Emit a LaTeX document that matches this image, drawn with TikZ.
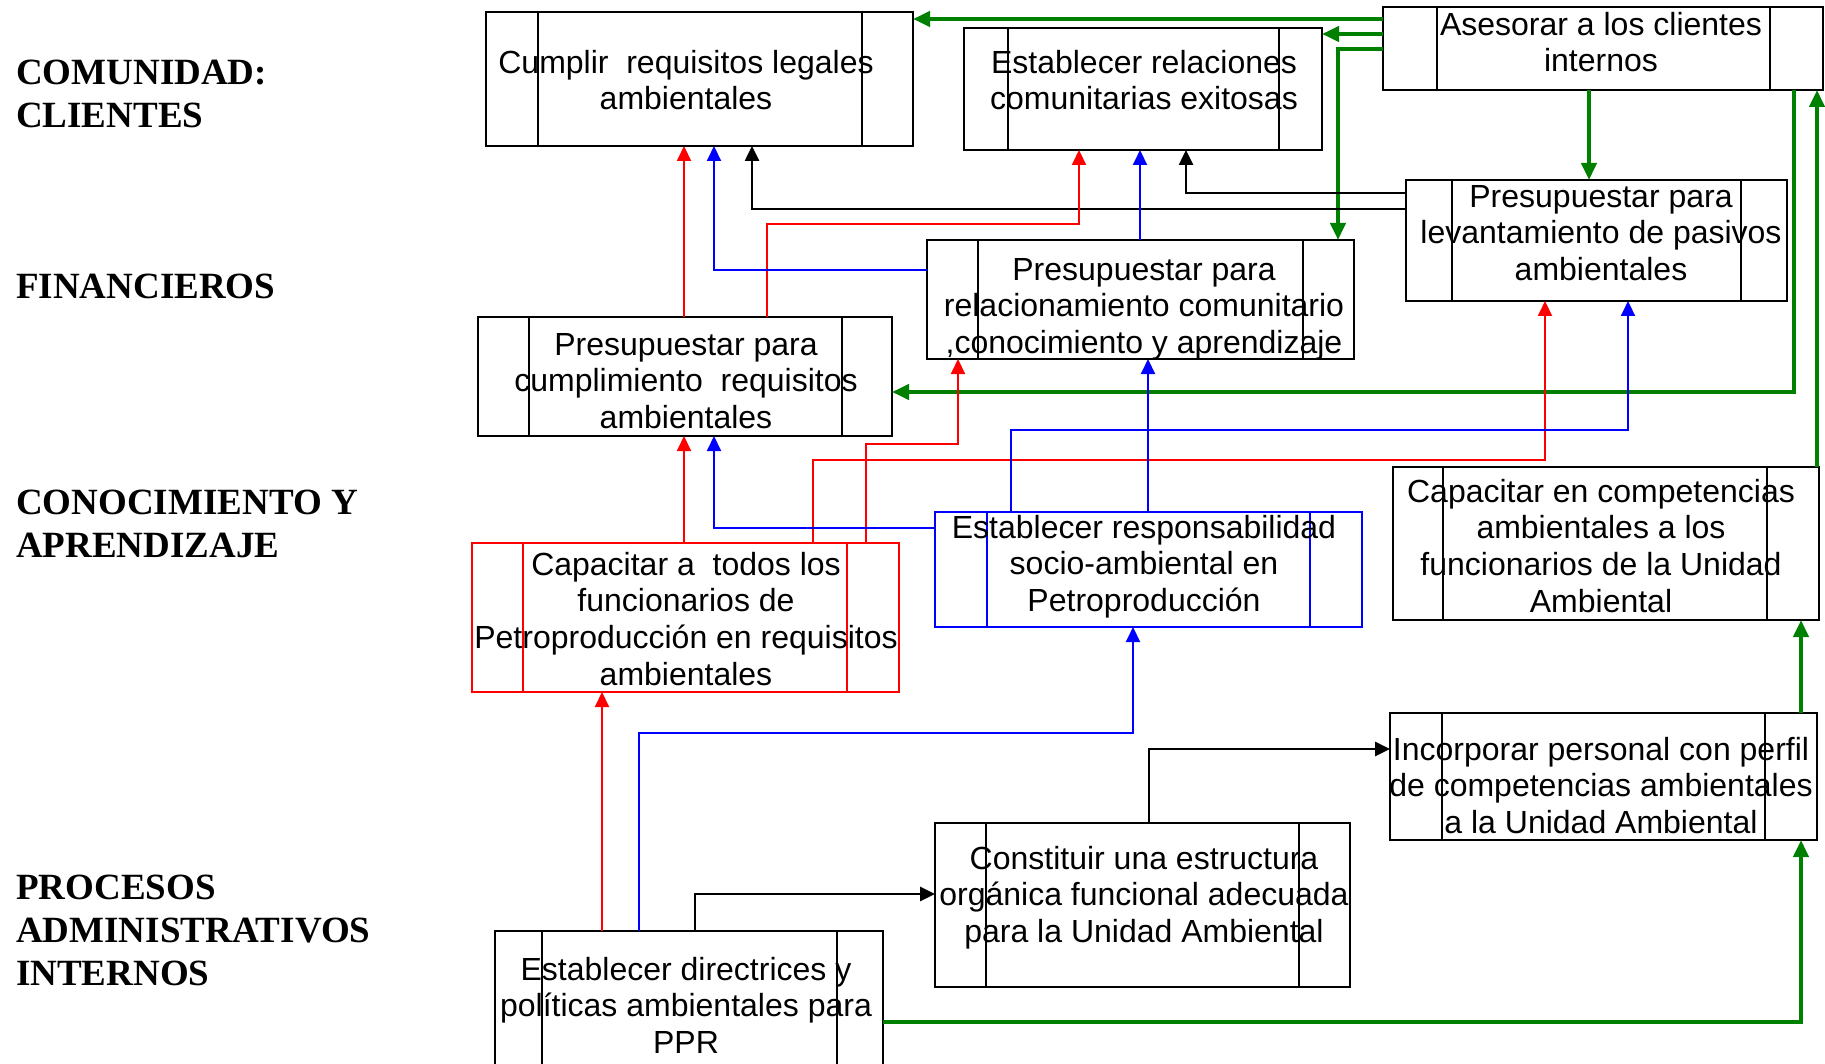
\documentclass[tikz,border=0pt]{standalone}
\usepackage{fontspec}
\setmainfont{Liberation Sans}
\newfontfamily\persfont{Liberation Serif}
\usetikzlibrary{arrows.meta}

\definecolor{objgreen}{RGB}{0,128,0}
\definecolor{objred}{RGB}{255,0,0}
\definecolor{objblue}{RGB}{0,0,255}

\tikzset{
  objframe/.style={rectangle, draw, line width=2pt, inner sep=0pt, outer sep=0pt},
  frame objred/.style={line width=2.7pt},
  frame objblue/.style={line width=2.7pt},
  objbar/.style={line width=1.5pt},
  objtxt/.style={font=\fontsize{32}{36.7}\selectfont, align=center, inner sep=0pt, anchor=north},
  persp/.style={font=\persfont\bfseries\fontsize{37}{43.3}\selectfont, align=left, inner sep=0pt, anchor=north west},
  tip/.style={-{Triangle[length=15pt,width=14pt]}},
  bigtip/.style={-{Triangle[length=17pt,width=15pt]}},
  gline/.style={draw=objgreen, line width=4pt, bigtip},
  kline/.style={draw=black, line width=2.6pt, tip},
  rline/.style={draw=objred, line width=2pt, tip},
  bline/.style={draw=objblue, line width=2pt, tip},
}

% \objbox[colour]{name}{left}{top}{right}{bottom}{left bar inset}{right bar inset}
\newcommand\objbox[8][black]{%
  \node[objframe, draw=#1, frame #1/.try, minimum width={#5-#3}, minimum height={#6-#4}]
    (#2) at ({(#3+#5)/2},{(#4+#6)/2}) {};
  \draw[objbar, draw=#1]
    ([xshift=#7]#2.north west) -- ([xshift=#7]#2.south west)
    ([xshift=-#8]#2.north east) -- ([xshift=-#8]#2.south east);
}
% \objtext{name}{centre x}{first baseline}{text}
\newcommand\objtext[4]{%
  \node[objtxt] (#1) at (#2,{#3-25.69}) {\strut #4};
}
% \perspective{name}{first baseline}{text}
\newcommand\perspective[3]{%
  \node[persp] (#1) at (16,{#2-30.31}) {\strut #3};
}

\begin{document}
\begin{tikzpicture}[x=1pt, y=-1pt]
\useasboundingbox (0,0) rectangle (1825,1064);
\clip (0,0) rectangle (1825,1064);

% perspective labels
\perspective{lcom}{84}{COMUNIDAD:\\CLIENTES}
\perspective{lfin}{298}{FINANCIEROS}
\perspective{lcon}{514}{CONOCIMIENTO Y\\APRENDIZAJE}
\perspective{lpro}{899}{PROCESOS\\ADMINISTRATIVOS\\INTERNOS}

% objective boxes
\objbox{cumplir}{486}{12}{913}{146}{52}{51}
\objbox{relcom}{964}{28}{1322}{150}{44}{43}
\objbox{asesorar}{1383}{7}{1823}{90}{54}{53}
\objbox{pasivos}{1406}{180}{1787}{301}{46}{46}
\objbox{prerel}{927}{240}{1354}{359}{51}{51}
\objbox{precump}{478}{317}{892}{436}{51}{50}
\objbox[objred]{capacitar}{472}{543}{899}{692}{51}{52}
\objbox[objblue]{respons}{935}{512}{1362}{627}{52}{52}
\objbox{competencias}{1393}{467}{1819}{620}{50}{52}
\objbox{incorporar}{1390}{713}{1817}{840}{52}{52}
\objbox{constituir}{935}{823}{1350}{987}{51}{51}
\objbox{directrices}{495}{931}{883}{1090}{47}{46}

% box texts
\objtext{t1}{686}{73}{Cumplir\ \ requisitos legales\\ambientales}
\objtext{t2}{1144}{73}{Establecer relaciones\\comunitarias exitosas}
\objtext{t3}{1601}{35}{Asesorar a los clientes\\internos}
\objtext{t4}{1601}{207}{Presupuestar para\\levantamiento de pasivos\\ambientales}
\objtext{t5}{1144}{280}{Presupuestar para\\relacionamiento comunitario\\,conocimiento y aprendizaje}
\objtext{t6}{686}{355}{Presupuestar para\\cumplimiento\ \ requisitos\\ambientales}
\objtext{t7}{686}{575}{Capacitar a\ \ todos los\\funcionarios de\\Petroproducción en requisitos\\ambientales}
\objtext{t8}{1144}{538}{Establecer responsabilidad\\socio-ambiental en\\Petroproducción}
\objtext{t9}{1601}{502}{Capacitar en competencias\\ambientales a los\\funcionarios de la Unidad\\Ambiental}
\objtext{t10}{1601}{760}{Incorporar personal con perfil\\de competencias ambientales\\a la Unidad Ambiental}
\objtext{t11}{1144}{869}{Constituir una estructura\\orgánica funcional adecuada\\para la Unidad Ambiental}
\objtext{t12}{686}{980}{Establecer directrices y\\políticas ambientales para\\PPR}

% connector lanes and bends
\coordinate (g1) at (1383,19);
\coordinate (g2) at (1383,34);
\coordinate (g3) at (1338,49);
\coordinate (g4) at (1589,0);
\coordinate (g5) at (1794,392);
\coordinate (g6) at (1817,0);
\coordinate (g7) at (1801,1022);
\coordinate (k1) at (1186,193);
\coordinate (k2) at (752,209);
\coordinate (k3) at (695,894);
\coordinate (k4) at (1149,749);
\coordinate (r1) at (684,0);
\coordinate (r2a) at (767,224);
\coordinate (r2b) at (1079,224);
\coordinate (r4a) at (866,444);
\coordinate (r4b) at (958,444);
\coordinate (r5a) at (813,460);
\coordinate (r5b) at (1545,460);
\coordinate (r6) at (602,0);
\coordinate (b1) at (714,270);
\coordinate (b2) at (1140,0);
\coordinate (b3) at (714,528);
\coordinate (b4) at (1148,0);
\coordinate (b5a) at (1011,430);
\coordinate (b5b) at (1628,430);
\coordinate (b6a) at (639,733);
\coordinate (b6b) at (1133,733);

% green links
\draw[gline] (asesorar.west |- g1) -- (cumplir.east |- g1);
\draw[gline] (asesorar.west |- g2) -- (relcom.east |- g2);
\draw[gline] (asesorar.west |- g3) -| (prerel.north -| g3);
\draw[gline] (asesorar.south -| g4) -- (pasivos.north -| g4);
\draw[gline] (asesorar.south -| g5) |- (precump.east |- g5);
\draw[gline] (competencias.north -| g6) -- (asesorar.south -| g6);
\draw[gline] (incorporar.north -| g7) -- (competencias.south -| g7);
\draw[gline] (directrices.east |- g7) -| (incorporar.south -| g7);

% black links
\draw[kline] (pasivos.west |- k1) -| (relcom.south -| k1);
\draw[kline] (pasivos.west |- k2) -| (cumplir.south -| k2);
\draw[kline] (directrices.north -| k3) |- (constituir.west |- k3);
\draw[kline] (constituir.north -| k4) |- (incorporar.west |- k4);

% red links
\draw[rline] (precump.north -| r1) -- (cumplir.south -| r1);
\draw[rline] (capacitar.north -| r1) -- (precump.south -| r1);
\draw[rline] (precump.north -| r2a) |- (r2b) -- (relcom.south -| r2b);
\draw[rline] (capacitar.north -| r4a) |- (r4b) -- (prerel.south -| r4b);
\draw[rline] (capacitar.north -| r5a) |- (r5b) -- (pasivos.south -| r5b);
\draw[rline] (directrices.north -| r6) -- (capacitar.south -| r6);

% blue links
\draw[bline] (prerel.west |- b1) -| (cumplir.south -| b1);
\draw[bline] (prerel.north -| b2) -- (relcom.south -| b2);
\draw[bline] (respons.west |- b3) -| (precump.south -| b3);
\draw[bline] (respons.north -| b4) -- (prerel.south -| b4);
\draw[bline] (respons.north -| b5a) |- (b5b) -- (pasivos.south -| b5b);
\draw[bline] (directrices.north -| b6a) |- (b6b) -- (respons.south -| b6b);
\end{tikzpicture}
\end{document}
